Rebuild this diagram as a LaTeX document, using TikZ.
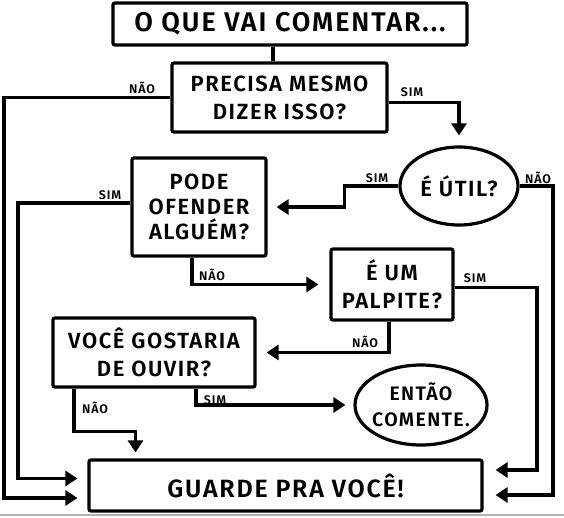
\documentclass[tikz,border=0pt]{standalone}
\usepackage{fontspec}
\setmainfont{Fira Sans}[BoldFont={Fira Sans SemiBold}, LetterSpace=7]
\usetikzlibrary{arrows.meta,shapes.geometric}

\tikzset{
  box/.style={draw, line width=3.2pt, rounded corners=2pt, align=center,
    inner sep=0pt, font=\bfseries\fontsize{22}{28}\selectfont},
  bubble/.style={box, ellipse},
  bubbletext/.style={align=center, inner sep=0pt, font=\bfseries\fontsize{22}{28}\selectfont},
  wire/.style={line width=3.2pt},
  flow/.style={wire, -{Triangle[width=15pt,length=12pt]}},
  lbl/.style={font=\bfseries\fontsize{12.5}{14}\selectfont, inner sep=0pt}
}

\begin{document}
\begin{tikzpicture}[x=1pt, y=-1pt]
\fill[white] (0,0) rectangle (564,517);
\useasboundingbox (0,0) rectangle (564,517);
\draw[gray!60, line width=1.5pt] (0,515) -- (564,515);

% questions and answers
\node[box, minimum width=354pt, minimum height=42pt, font=\bfseries\fontsize{27}{30}\selectfont] (titulo) at (290,24) {O QUE VAI COMENTAR...};
\node[box, minimum width=215pt, minimum height=69pt] (precisa) at (279.5,97.5) {PRECISA MESMO\\DIZER ISSO?};
\node[bubble, minimum width=118pt, minimum height=78pt] (util) at (459,186) {};
\node[bubbletext] (utilTxt) at (util) {É ÚTIL?};
\node[box, minimum width=134pt, minimum height=98pt, font=\bfseries\fontsize{22}{25}\selectfont] (pode) at (199,207) {PODE\\OFENDER\\ALGUÉM?};
\node[box, minimum width=122pt, minimum height=71pt] (palpite) at (392,284.5) {É UM\\PALPITE?};
\node[box, minimum width=202pt, minimum height=69pt] (voce) at (154,352.5) {VOCÊ GOSTARIA\\DE OUVIR?};
\node[bubble, minimum width=132pt, minimum height=80pt] (entao) at (421,405) {};
\node[bubbletext, font=\bfseries\fontsize{19.5}{26}\selectfont] (entaoTxt) at (entao) {ENTÃO\\COMENTE.};
\node[box, minimum width=393pt, minimum height=51pt, font=\bfseries\fontsize{25}{28}\selectfont] (guarde) at (285.5,485.5) {GUARDE PRA VOCÊ!};

% rails and entry points of the last box
\coordinate (railA) at (4,0);
\coordinate (railB) at (18,0);
\coordinate (railC) at (537,0);
\coordinate (railD) at (553,0);
\coordinate (gwu) at ([yshift=7pt]guarde.west);
\coordinate (gwl) at ([yshift=-12.5pt]guarde.west);
\coordinate (geu) at ([yshift=15.5pt]guarde.east);
\coordinate (gel) at ([yshift=-9.5pt]guarde.east);

\draw[wire] (titulo.south -| 273,0) -- (precisa.north -| 273,0);
\draw[flow] (precisa.west) -| (railA |- gwl) -- ([xshift=-10pt]gwl);
\draw[flow, shorten >=10pt] ([yshift=-5pt]precisa.east) -| (util.north);
\draw[flow, shorten >=9pt] (util.west) -- ++(-54,0) |- (pode.east);
\draw[flow] (util.east) -| (railD |- gel) -- ([xshift=12pt]gel);
\draw[flow] ([yshift=4pt]pode.west) -| (railB |- gwu) -- ([xshift=-10pt]gwu);
\draw[flow, shorten >=11pt] ([xshift=-7pt]pode.south) |- (palpite.west);
\draw[flow] ([yshift=-3pt]palpite.east) -| (railC |- geu) -- ([xshift=12pt]geu);
\draw[flow, shorten >=10pt] ([xshift=-3pt]palpite.south) |- (voce.east);
\draw[flow, shorten >=6pt] ([xshift=-80pt]voce.south) -- ++(0,43) -| ([xshift=-150pt]guarde.north);
\draw[flow, shorten >=8pt] ([xshift=42pt]voce.south) |- (entao.west);

% answers on the wires
\node[lbl] (naoPrecisa) at (142,88) {NÃO};
\node[lbl] (simPrecisa) at (412,92) {SIM};
\node[lbl] (simUtil) at (377,178) {SIM};
\node[lbl] (naoUtil) at (538,178) {NÃO};
\node[lbl] (simPode) at (110,195) {SIM};
\node[lbl] (naoPode) at (212,275) {NÃO};
\node[lbl] (simPalpite) at (475,278) {SIM};
\node[lbl] (naoPalpite) at (365,342) {NÃO};
\node[lbl] (naoVoce) at (95,408) {NÃO};
\node[lbl] (simVoce) at (215,400) {SIM};
\end{tikzpicture}
\end{document}
